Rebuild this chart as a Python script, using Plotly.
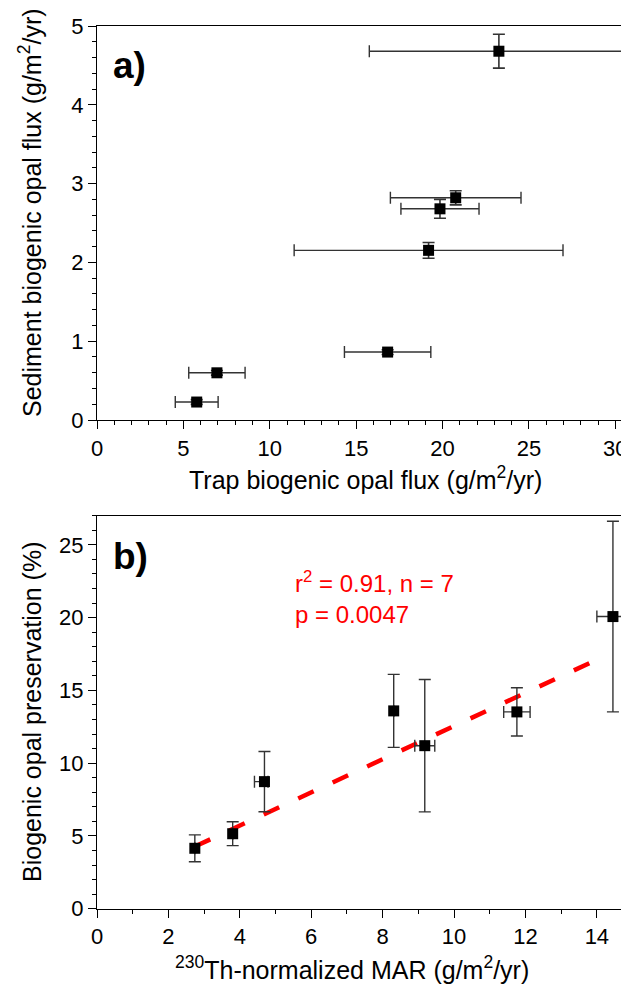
import plotly.graph_objects as go

# ---------------- data ----------------
# Panel a
a_trap = [5.77, 6.94, 16.82, 19.19, 19.85, 20.76, 23.26]
a_trap_err = [1.24, 1.63, 2.50, 7.78, 2.26, 3.78, 7.50]
a_sed = [0.228, 0.599, 0.862, 2.153, 2.68, 2.82, 4.68]
a_sed_err = [0.03, 0.03, 0.03, 0.10, 0.12, 0.09, 0.215]

# Panel b
b_mar = [2.74, 3.80, 4.69, 8.31, 9.18, 11.76, 14.45]
b_mar_err_plus = [0.0, 0.0, 0.10, 0.0, 0.28, 0.37, 0.45]
b_mar_err_minus = [0.0, 0.0, 0.28, 0.0, 0.28, 0.37, 0.45]
b_pres = [4.15, 5.15, 8.73, 13.59, 11.20, 13.52, 20.07]
b_pres_err = [0.92, 0.82, 2.07, 2.51, 4.55, 1.66, 6.55]

# regression line
fit_slope = 1.14
fit_intercept = 1.15
fit_x = [2.74, 14.2]
fit_y = [fit_intercept + fit_slope * v for v in fit_x]

OFF = 8  # page body margin offset
W, H = 629 - OFF, 989 - OFF
FONT = "Liberation Sans, Arial, sans-serif"

def px(x):
    return (x - OFF) / W

def py(y):
    return 1 - (y - OFF) / H

err_col = "#333333"

fig = go.Figure()

fig.add_trace(go.Scatter(
    x=a_trap, y=a_sed, mode="markers", xaxis="x", yaxis="y",
    marker=dict(symbol="square", size=11, color="black"),
    error_x=dict(type="data", array=a_trap_err, color=err_col, thickness=1.4, width=6),
    error_y=dict(type="data", array=a_sed_err, color=err_col, thickness=1.6, width=6),
    showlegend=False, cliponaxis=False,
))

fig.add_trace(go.Scatter(
    x=fit_x, y=fit_y, mode="lines", xaxis="x2", yaxis="y2",
    line=dict(color="#ff0000", width=4.5, dash="17px,21px"),
    showlegend=False,
))

fig.add_trace(go.Scatter(
    x=b_mar, y=b_pres, mode="markers", xaxis="x2", yaxis="y2",
    marker=dict(symbol="square", size=11, color="black"),
    error_x=dict(type="data", symmetric=False, array=b_mar_err_plus,
                 arrayminus=b_mar_err_minus, color=err_col, thickness=1.4, width=6),
    error_y=dict(type="data", array=b_pres_err, color=err_col, thickness=1.4, width=6),
    showlegend=False, cliponaxis=False,
))

axis_common = dict(
    showline=True, linecolor="black", linewidth=1.3,
    ticks="outside", ticklen=8, tickwidth=1.3, tickcolor="black",
    showgrid=False, zeroline=False, automargin=False,
    tickfont=dict(family=FONT, size=22, color="black"),
)

fig.update_layout(
    width=W, height=H,
    margin=dict(l=0, r=0, t=0, b=0, autoexpand=False),
    paper_bgcolor="white", plot_bgcolor="white",
    xaxis=dict(axis_common, domain=[px(97), px(629)], range=[0, 30.79], anchor="y",
               dtick=5, tick0=0, mirror=True,
               minor=dict(dtick=1, ticks="outside", ticklen=4, tickwidth=1.2, tickcolor="black")),
    yaxis=dict(axis_common, domain=[py(420), py(26)], range=[0, 5], anchor="x",
               dtick=1, tick0=0,
               minor=dict(dtick=0.2, ticks="outside", ticklen=4, tickwidth=1.2, tickcolor="black")),
    xaxis2=dict(axis_common, domain=[px(97), px(629)], range=[0, 14.9], anchor="y2",
                dtick=2, tick0=0, mirror=True,
                minor=dict(dtick=1, ticks="outside", ticklen=4, tickwidth=1.2, tickcolor="black")),
    yaxis2=dict(axis_common, domain=[py(908.7), py(515.7)], range=[0, 27], anchor="x2",
                dtick=5, tick0=0,
                minor=dict(dtick=1, ticks="outside", ticklen=4, tickwidth=1.2, tickcolor="black")),
)

ann = []
def add_text(text, x, y, size=20, color="black", bold=False, xanchor="center",
             yanchor="middle", angle=0, align="center"):
    if bold:
        text = "<b>" + text + "</b>"
    ann.append(dict(text=text, x=px(x), y=py(y), xref="paper", yref="paper",
                    showarrow=False, xanchor=xanchor, yanchor=yanchor,
                    textangle=angle, align=align,
                    font=dict(family=FONT, size=size, color=color)))

add_text("a)", 111, 66, size=37, bold=True, xanchor="left")
add_text("b)", 111, 556, size=37, bold=True, xanchor="left")
add_text("Trap biogenic opal flux (g/m<sup>2</sup>/yr)", 365, 478, size=25)
add_text("Sediment biogenic opal flux (g/m<sup>2</sup>/yr)", 30, 213, size=25, angle=-90)
add_text("<sup>230</sup>Th-normalized MAR (g/m<sup>2</sup>/yr)", 352, 968, size=25)
add_text("Biogenic opal preservation (%)", 32, 712, size=25, angle=-90)
add_text("r<sup>2</sup> = 0.91, n = 7<br>p = 0.0047", 293, 597, size=24,
         color="#ff0000", xanchor="left", align="left")

fig.update_layout(annotations=ann)

fig.write_html("out.html")
